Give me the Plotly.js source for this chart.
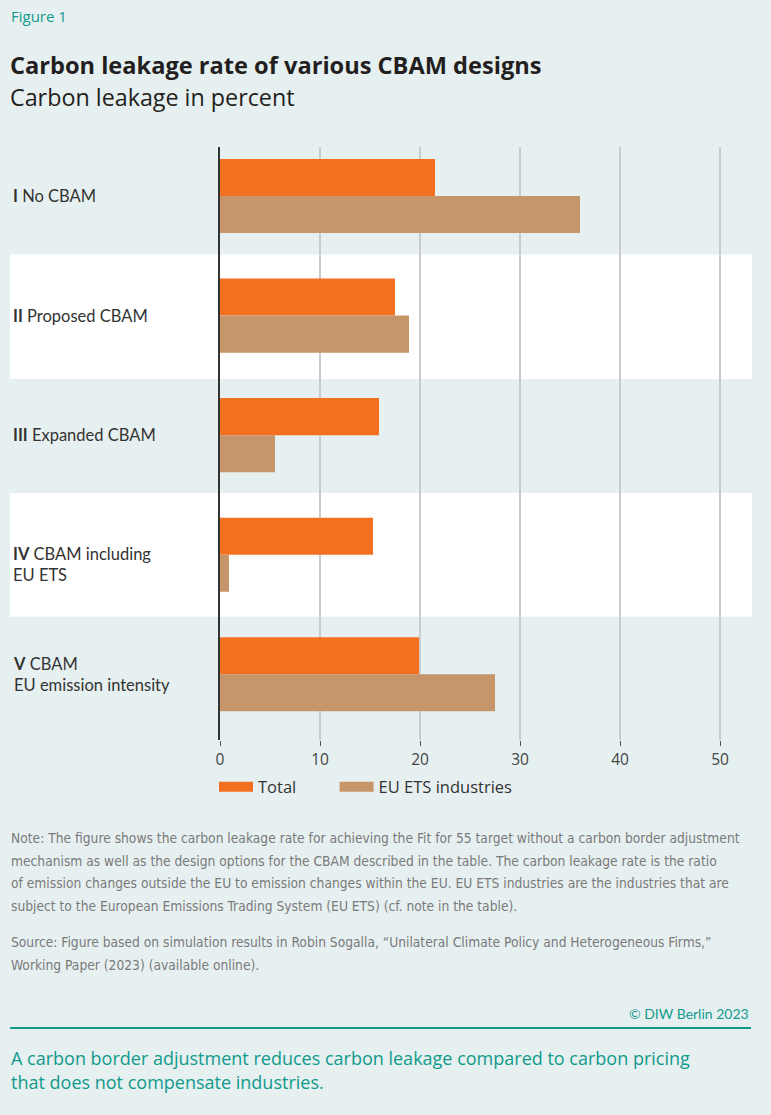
<!DOCTYPE html>
<html>
<head>
<meta charset="utf-8">
<script src="https://cdn.plot.ly/plotly-3.0.1.min.js"></script>
<style>
html,body{margin:0;padding:0;background:#e7f0f1;}
#chart{width:771px;height:1115px;}
</style>
</head>
<body>
<div id="chart"></div>
<script>
// ---- data ----
var numerals = ['I', 'II', 'III', 'IV', 'V'];
var categories = ['No CBAM', 'Proposed CBAM', 'Expanded CBAM', 'CBAM including<br>EU ETS', 'CBAM<br>EU emission intensity'];
var totalValues = [21.5, 17.5, 15.9, 15.3, 19.9];
var etsValues = [36.0, 18.9, 5.5, 0.9, 27.5];
var seriesNames = ['Total', 'EU ETS industries'];
var xTicks = [0, 10, 20, 30, 40, 50];

var noteLines = [
  'Note: The figure shows the carbon leakage rate for achieving the Fit for 55 target without a carbon border adjustment',
  'mechanism as well as the design options for the CBAM described in the table. The carbon leakage rate is the ratio',
  'of emission changes outside the EU to emission changes within the EU. EU ETS industries are the industries that are',
  'subject to the European Emissions Trading System (EU ETS) (cf. note in the table).'
];
var sourceLines = [
  'Source: Figure based on simulation results in Robin Sogalla, \u201cUnilateral Climate Policy and Heterogeneous Firms,\u201d',
  'Working Paper (2023) (available online).'
];

var ORANGE = '#f37021';
var TAN = '#c6956a';
var TEAL = '#109a8c';
var BG = '#e7f0f1';

var FONT = 'Lato, "Open Sans", sans-serif';
var OPEN = '"Open Sans", "Noto Sans", sans-serif';
var NARROW = '"Liberation Sans Narrow", "DejaVu Sans Condensed", sans-serif';

var traces = [
  {type: 'bar', orientation: 'h', name: seriesNames[0], y: categories, x: totalValues,
   marker: {color: ORANGE, line: {width: 0}}, showlegend: false, hoverinfo: 'x'},
  {type: 'bar', orientation: 'h', name: seriesNames[1], y: categories, x: etsValues,
   marker: {color: TAN, line: {width: 0}}, showlegend: false, hoverinfo: 'x'},
  // legend-only entries (wide swatches)
  {type: 'scatter', mode: 'lines', name: seriesNames[0], x: [null], y: [null],
   line: {color: ORANGE, width: 10}, showlegend: true, legend: 'legend', hoverinfo: 'skip'},
  {type: 'scatter', mode: 'lines', name: seriesNames[1], x: [null], y: [null],
   line: {color: TAN, width: 10}, showlegend: true, legend: 'legend2', hoverinfo: 'skip'}
];

var W = 771, H = 1115, L = 220, R = 19, T = 147, B = 375;
var pw = W - L - R, ph = H - T - B;
function px(xp) { return (xp - L) / pw; }
function py(yp) { return (H - B - yp) / ph; }

var annotations = [];
categories.forEach(function (c, i) {
  annotations.push({
    xref: 'paper', yref: 'y', x: px(11), y: c, xanchor: 'left', yanchor: 'middle',
    align: 'left', showarrow: false, yshift: (i === 3 ? -10 : 0),
    text: '<b>' + numerals[i] + '</b> ' + c,
    font: {family: FONT, size: 16.5, color: '#333'}
  });
});

annotations.push({
  xref: 'paper', yref: 'paper', x: px(9), y: py(16), xanchor: 'left', yanchor: 'middle',
  showarrow: false, text: 'Figure 1', font: {family: OPEN, size: 15, color: TEAL}
});
annotations.push({
  xref: 'paper', yref: 'paper', x: px(8), y: py(65), xanchor: 'left', yanchor: 'middle',
  showarrow: false, text: '<b>Carbon leakage rate of various CBAM designs</b>',
  font: {family: OPEN, size: 23.6, color: '#231f20'}
});
annotations.push({
  xref: 'paper', yref: 'paper', x: px(8), y: py(97), xanchor: 'left', yanchor: 'middle',
  showarrow: false, text: 'Carbon leakage in percent',
  font: {family: OPEN, size: 23.3, color: '#231f20'}
});
noteLines.forEach(function (t, i) {
  annotations.push({
    xref: 'paper', yref: 'paper', x: px(9), y: py(838 + i * 22.7), xanchor: 'left', yanchor: 'middle',
    align: 'left', showarrow: false, text: t,
    font: {family: NARROW, size: 13.7, color: '#7a7a7a'}
  });
});
sourceLines.forEach(function (t, i) {
  annotations.push({
    xref: 'paper', yref: 'paper', x: px(9), y: py(942 + i * 23), xanchor: 'left', yanchor: 'middle',
    align: 'left', showarrow: false, text: t,
    font: {family: NARROW, size: 13.7, color: '#7a7a7a'}
  });
});
annotations.push({
  xref: 'paper', yref: 'paper', x: px(751), y: py(1014), xanchor: 'right', yanchor: 'middle',
  showarrow: false, text: '\u00a9 DIW Berlin 2023',
  font: {family: FONT, size: 14, color: TEAL}
});
annotations.push({
  xref: 'paper', yref: 'paper', x: px(9), y: py(1058), xanchor: 'left', yanchor: 'middle',
  showarrow: false, text: 'A carbon border adjustment reduces carbon leakage compared to carbon pricing',
  font: {family: OPEN, size: 18, color: TEAL}
});
annotations.push({
  xref: 'paper', yref: 'paper', x: px(9), y: py(1082), xanchor: 'left', yanchor: 'middle',
  showarrow: false, text: 'that does not compensate industries.',
  font: {family: OPEN, size: 18, color: TEAL}
});

var shapes = [
  {type: 'rect', xref: 'paper', yref: 'y', x0: px(10), x1: 1, y0: 0.49, y1: 1.53,
   fillcolor: '#ffffff', line: {width: 0}, layer: 'below'},
  {type: 'rect', xref: 'paper', yref: 'y', x0: px(10), x1: 1, y0: 2.485, y1: 3.52,
   fillcolor: '#ffffff', line: {width: 0}, layer: 'below'},
  {type: 'line', xref: 'paper', yref: 'paper', x0: px(10), x1: px(751), y0: py(1028), y1: py(1028),
   line: {color: TEAL, width: 2}}
];

var legendBase = {orientation: 'h', y: py(787), xanchor: 'left', yanchor: 'middle',
  bgcolor: 'rgba(0,0,0,0)', font: {family: OPEN, size: 16.5, color: '#333'}, itemwidth: 34};

var layout = {
  width: W, height: H,
  margin: {l: L, r: R, t: T, b: B},
  paper_bgcolor: BG, plot_bgcolor: BG,
  font: {family: FONT, color: '#333'},
  barmode: 'group', bargap: 0.38, bargroupgap: 0,
  showlegend: true,
  legend: Object.assign({}, legendBase, {x: px(214)}),
  legend2: Object.assign({}, legendBase, {x: px(334.6)}),
  xaxis: {range: [0, 53.2], tickvals: xTicks, ticktext: xTicks.map(String),
          showgrid: true, gridcolor: '#c9cbcc', gridwidth: 2, zeroline: false,
          showline: false, ticks: 'outside', ticklen: 5, tickcolor: '#555', tickwidth: 1,
          tickfont: {family: OPEN, size: 15.5, color: '#444'}, fixedrange: true},
  yaxis: {type: 'category', categoryarray: categories, categoryorder: 'array',
          range: [4.55, -0.41], showticklabels: false, ticks: '', showgrid: false,
          zeroline: false, showline: true, linecolor: '#333', linewidth: 2, fixedrange: true},
  shapes: shapes,
  annotations: annotations
};

Plotly.newPlot('chart', traces, layout, {displayModeBar: false, staticPlot: true});
</script>
</body>
</html>
